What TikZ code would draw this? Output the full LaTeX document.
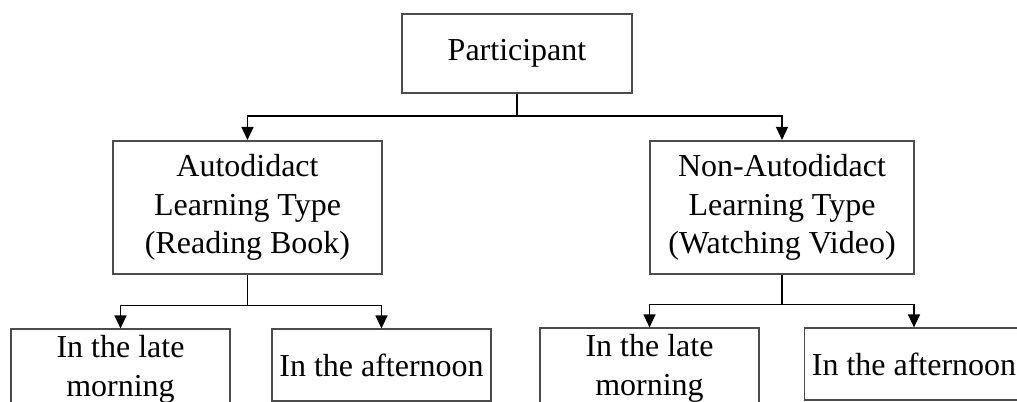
\documentclass[tikz,border=0pt]{standalone}
\usepackage{fontspec}
\setmainfont{Liberation Serif}
\usepackage{tikz}
\usetikzlibrary{
    arrows.meta,
    positioning
}
\tikzset{
    % Plain boxes with a thin gray frame
    block/.style={
        draw=black!70,
        line width=1.1pt,
        rectangle,
        align=center,
        inner sep=2pt,
        font=\fontsize{18.2}{21.9}\selectfont,
    },
    % Top and middle rows
    group box/.style={
        block,
        minimum width=5.33cm,
        minimum height=2.67cm,
    },
    % Bottom row
    time box/.style={
        block,
        minimum width=4.38cm,
        minimum height=1.44cm,
    },
    % Connectors
    line/.style={
        line width=0.8pt,
        draw=black,
    },
    arrow/.style={
        line,
        -{Triangle[length=2.6mm, width=2.4mm]},
    },
}

\begin{document}
\begin{tikzpicture}
    \path [use as bounding box, clip] (0,0) rectangle (20.34,-8.02);

    \node (part) [block, minimum width=4.6cm, minimum height=1.58cm] at (10.34,-1.07) {Participant};
    \node (auto) [group box, below=0.92cm of part, xshift=-5.39cm, minimum width=5.38cm] {Autodidact\\Learning Type\\(Reading Book)};
    \node (nonauto) [group box, below=0.92cm of part, xshift=5.30cm, minimum width=5.28cm] {Non-Autodidact\\Learning Type\\(Watching Video)};

    \node (morning1) [time box, below=1.06cm of auto, xshift=-2.54cm, minimum height=1.6cm] {In the late\\morning};
    \node (noon1) [time box, below=1.06cm of auto, xshift=2.68cm] {In the afternoon};
    \node (morning2) [time box, below=1.04cm of nonauto, xshift=-2.65cm, minimum height=1.6cm] {In the late\\morning};
    \node (noon2) [time box, below=1.04cm of nonauto, xshift=2.64cm] {In the afternoon};

    \coordinate [below=0.44cm of part.south] (split0);
    \coordinate [below=0.6cm of auto.south] (split1);
    \coordinate [below=0.58cm of nonauto.south] (split2);

    \draw [line] (part.south) -- (split0);
    \draw [arrow] (split0) -| (auto.north);
    \draw [arrow] (split0) -| (nonauto.north);

    \draw [line] (auto.south) -- (split1);
    \draw [arrow] (split1) -| (morning1.north);
    \draw [arrow] (split1) -| (noon1.north);

    \draw [line] (nonauto.south) -- (split2);
    \draw [arrow] (split2) -| (morning2.north);
    \draw [arrow] (split2) -| (noon2.north);
\end{tikzpicture}
\end{document}
